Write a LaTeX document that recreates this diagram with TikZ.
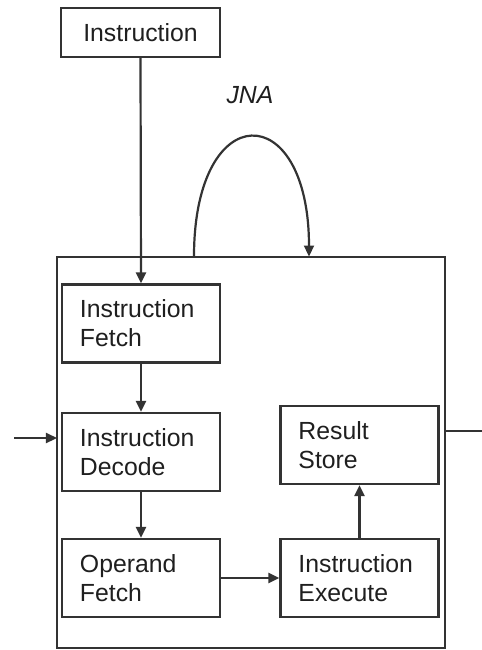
\documentclass[tikz,border=0pt]{standalone}
\usepackage{fontspec}
\setmainfont{Liberation Sans}
\usetikzlibrary{arrows.meta}
\begin{document}
\begin{tikzpicture}[x=0.5pt,y=-0.5pt,
  every node/.style={font=\fontsize{12.4}{14.6}\selectfont, text=black!88},
  stage/.style={draw=black!80, line width=1.1pt, rectangle, minimum width=79pt, minimum height=39pt,
    inner xsep=8.5pt, text width=61pt, align=left},
  link/.style={draw=black!80, line width=1.1pt},
  arr/.style={link, -{Triangle[length=5.5pt,width=5pt]}}]
\useasboundingbox (0,0) rectangle (482,650);
\node[draw=black!80, line width=1.1pt, minimum width=194pt, minimum height=195.5pt] (outer) at (251,452.5) {};
\node[draw=black!80, line width=1.1pt, minimum width=79.5pt, minimum height=24.5pt] (instr) at (140.5,32.5) {Instruction};
\node[stage] (ifetch) at (141,323.5) {Instruction\\Fetch};
\node[stage] (idec) at (141,452) {Instruction\\Decode};
\node[stage] (ofetch) at (141,578) {Operand\\Fetch};
\node[stage] (rstore) at (359.5,445) {Result\\Store};
\node[stage] (iexec) at (359.5,578) {Instruction\\Execute};
\node[font=\fontsize{12.4}{14.6}\selectfont\itshape] (jna) at (250,95) {JNA};
\coordinate (a1) at (194,256.5);
\coordinate (a2) at (309,256.5);
\coordinate (lin) at (14,438);
\coordinate (lend) at (57,438);
\coordinate (rst) at (445,431);
\coordinate (rout) at (482,431);
\draw[arr] (instr.south) -- (ifetch.north);
\draw[arr] (ifetch) -- (idec);
\draw[arr] (idec) -- (ofetch);
\draw[arr] (ofetch) -- (iexec);
\draw[arr] (iexec) -- (rstore);
\draw[arr] (a1) .. controls (194,97) and (309,97) .. (a2);
\draw[arr] (lin) -- (lend);
\draw[link] (rst) -- (rout);
\end{tikzpicture}
\end{document}
